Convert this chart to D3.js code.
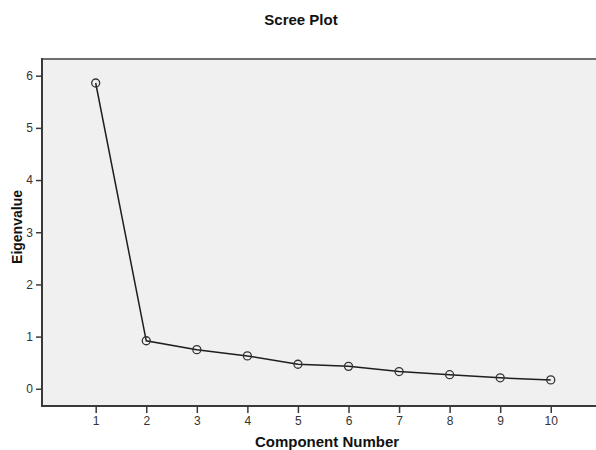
<!DOCTYPE html>
<html>
<head>
<meta charset="utf-8">
<script src="https://cdn.jsdelivr.net/npm/d3@7"></script>
<style>
  body { margin: 0; background: #fff; }
  svg { display: block; font-family: "Liberation Sans", Arial, sans-serif; }
</style>
</head>
<body>
<div id="chart"></div>
<script>
// scree plot data
const components = [1, 2, 3, 4, 5, 6, 7, 8, 9, 10];
const eigenvalues = [5.86, 0.92, 0.75, 0.63, 0.47, 0.43, 0.33, 0.27, 0.21, 0.17];
const yTicks = [0, 1, 2, 3, 4, 5, 6];

const W = 596, H = 450;
const margin = {top: 59, right: 0, bottom: 44, left: 42};
const width = W - margin.left - margin.right,
      height = H - margin.top - margin.bottom;

const svg = d3.select("#chart")
  .append("svg")
  .attr("width", W)
  .attr("height", H);

const g = svg.append("g")
  .attr("transform", `translate(${margin.left}, ${margin.top})`);

// plot background
g.append("rect")
  .attr("x", 0).attr("y", 0)
  .attr("width", width + 10)
  .attr("height", height)
  .style("fill", "#f0f0f0");

const x = d3.scaleLinear()
  .domain([-0.062, 10.895])
  .range([0, width]);

const y = d3.scaleLinear()
  .domain([-0.33, 6.32])
  .range([height, 0]);

// top frame line
g.append("line")
  .attr("x1", 0).attr("x2", width + 10)
  .attr("y1", 0).attr("y2", 0)
  .attr("stroke", "#6e6e6e")
  .attr("stroke-width", 2);

// X axis
const xAxis = g.append("g")
  .attr("transform", "translate(0," + height + ")")
  .call(d3.axisBottom(x).tickValues(components).tickFormat(d3.format("d"))
    .tickSize(7).tickPadding(3).tickSizeOuter(0));

// Y axis
const yAxis = g.append("g")
  .call(d3.axisLeft(y).tickValues(yTicks).tickFormat(d3.format("d"))
    .tickSize(6).tickPadding(3).tickSizeOuter(0));

[xAxis, yAxis].forEach(a => {
  a.select(".domain").attr("stroke", "#3a3a3a").attr("stroke-width", 2);
  a.selectAll(".tick line").attr("stroke", "#3a3a3a").attr("stroke-width", 1.5);
  a.selectAll(".tick text")
    .attr("fill", "#333")
    .style("font-size", "12px")
    .style("font-family", "'Liberation Sans', Arial, sans-serif");
});
yAxis.select(".domain").attr("d", `M0,${height + 1}V-1`);
xAxis.select(".domain").attr("d", `M-1,0H${width + 10}`);

// line
const line = d3.line()
  .x((d, i) => x(components[i]))
  .y(d => y(d));

g.append("path")
  .datum(eigenvalues)
  .attr("fill", "none")
  .attr("stroke", "#1e1e1e")
  .attr("stroke-width", 1.5)
  .attr("d", line);

// points
g.append("g")
  .selectAll("circle")
  .data(eigenvalues)
  .enter()
  .append("circle")
    .attr("cx", (d, i) => x(components[i]))
    .attr("cy", d => y(d))
    .attr("r", 4)
    .style("fill", "none")
    .style("stroke", "#333")
    .style("stroke-width", 1.3);

// title
svg.append("text")
  .attr("text-anchor", "middle")
  .attr("x", 301)
  .attr("y", 25)
  .style("font-weight", "bold")
  .style("font-size", "15px")
  .style("fill", "#111")
  .text("Scree Plot");

// axis titles
svg.append("text")
  .attr("text-anchor", "middle")
  .attr("x", 327)
  .attr("y", 447)
  .style("font-weight", "bold")
  .style("font-size", "15px")
  .style("fill", "#111")
  .text("Component Number");

svg.append("text")
  .attr("text-anchor", "middle")
  .attr("transform", "rotate(-90)")
  .attr("x", -227)
  .attr("y", 22)
  .style("font-weight", "bold")
  .style("font-size", "14px")
  .style("fill", "#111")
  .text("Eigenvalue");
</script>
</body>
</html>
